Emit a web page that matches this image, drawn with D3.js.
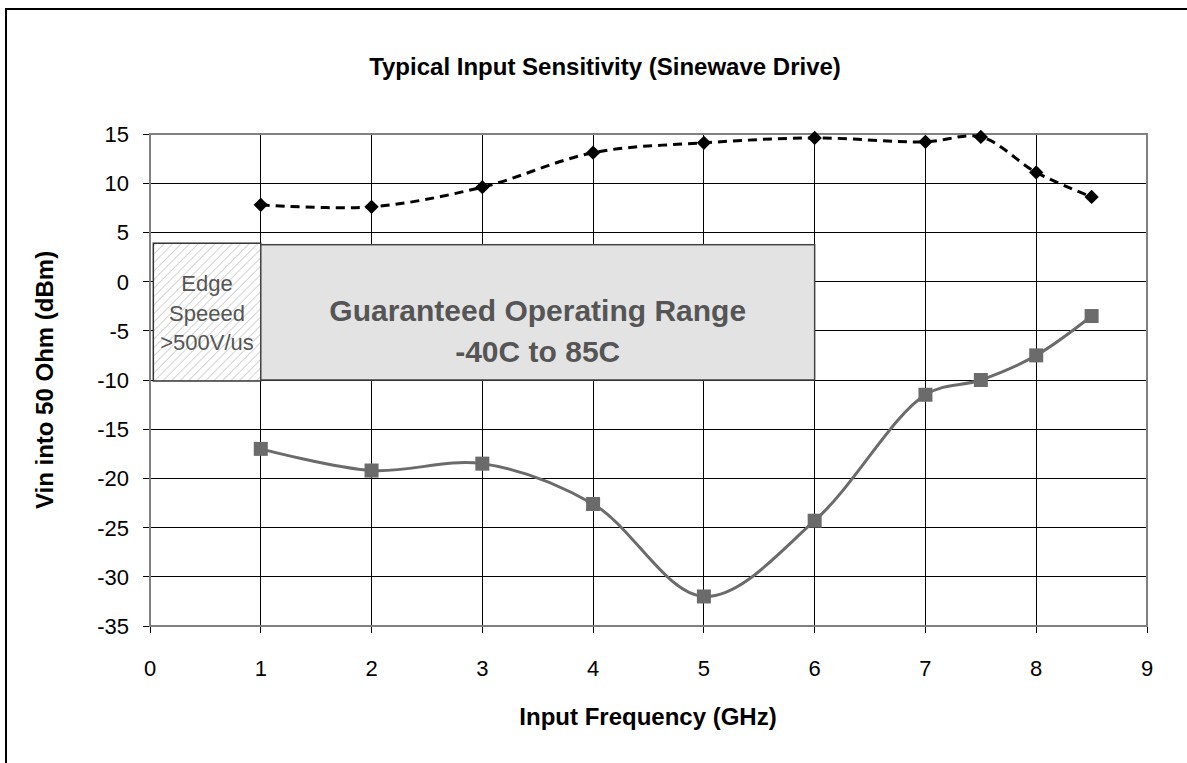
<!DOCTYPE html>
<html><head><meta charset="utf-8">
<script src="https://cdn.jsdelivr.net/npm/d3@7"></script>
<style>body{margin:0;background:#fff}svg{display:block}</style>
</head><body><svg id="c" width="1187" height="763" font-family="Arial, 'Liberation Sans', Helvetica, sans-serif"></svg>
<script>
const freq = [1, 2, 3, 4, 5, 6, 7, 7.5, 8, 8.5];
const maxInput = [7.8, 7.6, 9.6, 13.1, 14.1, 14.6, 14.2, 14.7, 11.1, 8.6];
const minInput = [-17, -19.2, -18.5, -22.6, -32, -24.3, -11.5, -10, -7.5, -3.5];
const xTicks = [0, 1, 2, 3, 4, 5, 6, 7, 8, 9];
const yTicks = [15, 10, 5, 0, -5, -10, -15, -20, -25, -30, -35];
const edgeBox = {x0: 0.03, x1: 1, y0: -10.1, y1: 3.9, lines: ["Edge", "Speeed", ">500V/us"]};
const rangeBox = {x0: 1, x1: 6, y0: -10, y1: 3.75, lines: ["Guaranteed Operating Range", "-40C to 85C"]};

const svg = d3.select("#c");
const L = 150, R = 1147, T = 134, B = 626;
const x = d3.scaleLinear().domain([0, 9]).range([L, R]);
const y = d3.scaleLinear().domain([-35, 15]).range([B, T]);

svg.append("rect").attr("x", 6).attr("y", 9).attr("width", 1300).attr("height", 900)
  .attr("fill", "#fff").attr("stroke", "#000").attr("stroke-width", 2);

const defs = svg.append("defs");
const pat = defs.append("pattern").attr("id", "hatch").attr("patternUnits", "userSpaceOnUse")
  .attr("width", 6).attr("height", 6).attr("patternTransform", "rotate(45)");
pat.append("rect").attr("width", 6).attr("height", 6).attr("fill", "#fff");
pat.append("line").attr("x1", 0).attr("y1", 0).attr("x2", 0).attr("y2", 6).attr("stroke", "#d4d4d4").attr("stroke-width", 2);

// gridlines
const g = svg.append("g");
g.selectAll(".hg").data(yTicks).join("line")
  .attr("x1", L - 7).attr("x2", R).attr("y1", d => y(d)).attr("y2", d => y(d))
  .attr("stroke", "#000").attr("stroke-width", 1).attr("shape-rendering", "crispEdges");
g.selectAll(".vg").data(xTicks).join("line")
  .attr("x1", d => x(d)).attr("x2", d => x(d)).attr("y1", T).attr("y2", B + 7)
  .attr("stroke", "#000").attr("stroke-width", 1).attr("shape-rendering", "crispEdges");
svg.append("rect").attr("x", L).attr("y", T).attr("width", R - L).attr("height", B - T)
  .attr("fill", "none").attr("stroke", "#808080").attr("stroke-width", 1.5).attr("shape-rendering", "crispEdges");

// tick labels
svg.selectAll(".yl").data(yTicks).join("text")
  .attr("x", L - 21).attr("y", d => y(d) + 8).attr("text-anchor", "end")
  .attr("font-size", 22).text(d => d);
svg.selectAll(".xl").data(xTicks).join("text")
  .attr("x", d => x(d)).attr("y", B + 50).attr("text-anchor", "middle")
  .attr("font-size", 22).text(d => d);

// annotation boxes
svg.append("rect").attr("x", x(edgeBox.x0)).attr("y", y(edgeBox.y1))
  .attr("width", x(edgeBox.x1) - x(edgeBox.x0)).attr("height", y(edgeBox.y0) - y(edgeBox.y1))
  .attr("fill", "url(#hatch)").attr("stroke", "#333").attr("stroke-width", 1.5);
svg.selectAll(".el").data(edgeBox.lines).join("text")
  .attr("x", (x(edgeBox.x0) + x(edgeBox.x1)) / 2).attr("y", (d, i) => 291 + i * 29.5)
  .attr("text-anchor", "middle").attr("font-size", 22).attr("fill", "#555").text(d => d);

svg.append("rect").attr("x", x(rangeBox.x0)).attr("y", y(rangeBox.y1))
  .attr("width", x(rangeBox.x1) - x(rangeBox.x0)).attr("height", y(rangeBox.y0) - y(rangeBox.y1))
  .attr("fill", "#e3e3e3").attr("stroke", "#444").attr("stroke-width", 1.5);
svg.selectAll(".rl").data(rangeBox.lines).join("text")
  .attr("x", (x(rangeBox.x0) + x(rangeBox.x1)) / 2).attr("y", (d, i) => 321 + i * 41)
  .attr("text-anchor", "middle").attr("font-size", 30).attr("font-weight", "bold")
  .attr("fill", "#555").text(d => d);

// series
const line = d3.line().curve(d3.curveCatmullRom.alpha(0.5)).x(d => x(d[0])).y(d => y(d[1]));
const maxPts = freq.map((f, i) => [f, maxInput[i]]);
const minPts = freq.map((f, i) => [f, minInput[i]]);

svg.append("path").attr("d", line(minPts)).attr("fill", "none")
  .attr("stroke", "#6b6b6b").attr("stroke-width", 3);
svg.selectAll(".sq").data(minPts).join("rect")
  .attr("x", d => x(d[0]) - 7).attr("y", d => y(d[1]) - 7)
  .attr("width", 14).attr("height", 14).attr("fill", "#6b6b6b");

svg.append("path").attr("d", line(maxPts)).attr("fill", "none")
  .attr("stroke", "#000").attr("stroke-width", 3).attr("stroke-dasharray", "9,6");
svg.selectAll(".dm").data(maxPts).join("path")
  .attr("d", d3.symbol().type(d3.symbolDiamond2).size(130))
  .attr("transform", d => `translate(${x(d[0])},${y(d[1])})`)
  .attr("fill", "#000");

// titles
svg.append("text").attr("x", 605).attr("y", 75).attr("text-anchor", "middle")
  .attr("font-size", 24).attr("font-weight", "bold").text("Typical Input Sensitivity (Sinewave Drive)");
svg.append("text").attr("x", 648).attr("y", 725).attr("text-anchor", "middle")
  .attr("font-size", 24).attr("font-weight", "bold").text("Input Frequency (GHz)");
svg.append("text").attr("transform", "translate(53,380) rotate(-90)").attr("text-anchor", "middle")
  .attr("font-size", 24).attr("font-weight", "bold").text("Vin into 50 Ohm (dBm)");
</script></body></html>
